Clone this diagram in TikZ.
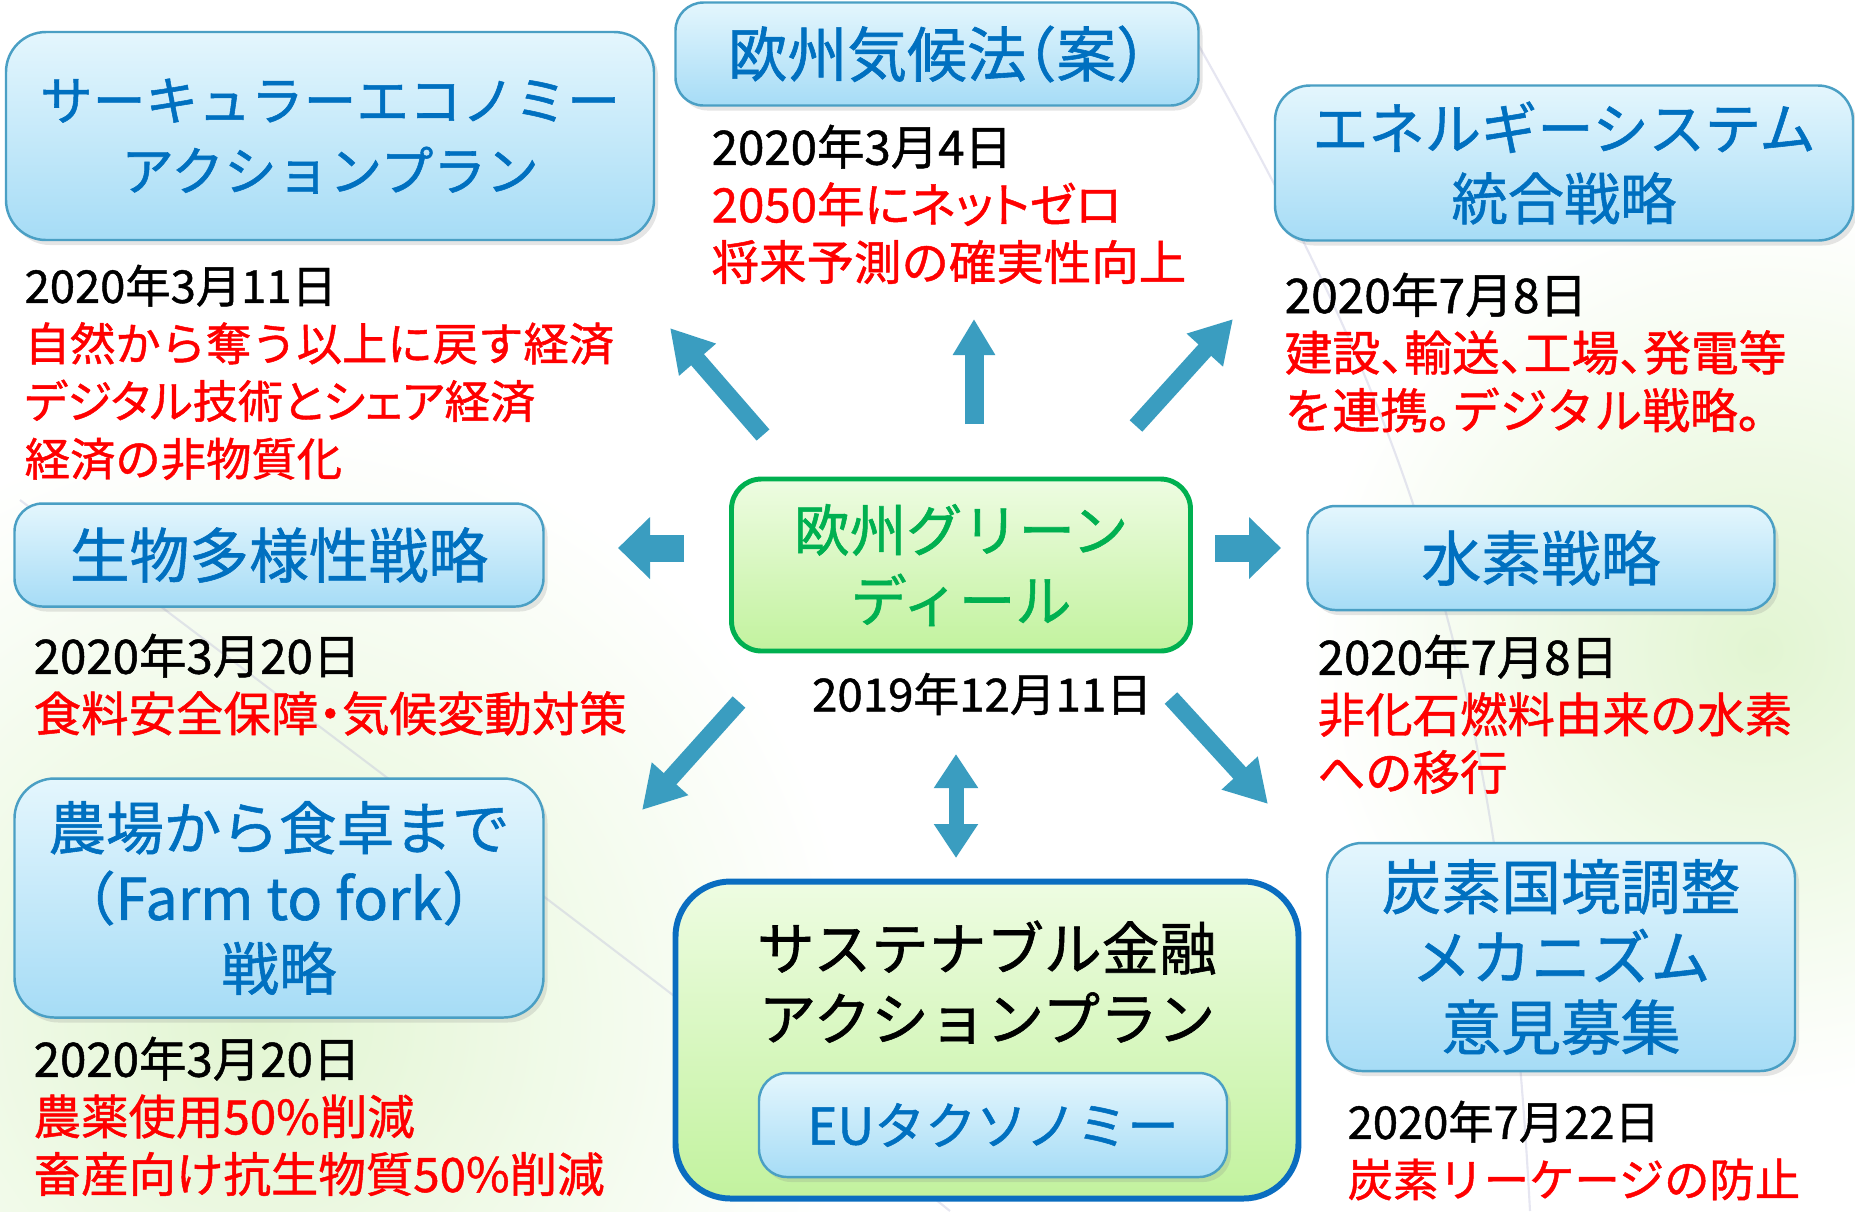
\documentclass[tikz,border=0pt]{standalone}
\usepackage{fontspec}
\setmainfont{Noto Sans CJK JP}[RawFeature=+halt, FakeBold=1]
\newcommand\narrowkana{\addfontfeatures{RawFeature=+palt}}
\usetikzlibrary{arrows.meta,shadows}
\definecolor{titleblue}{HTML}{0070C0}
\definecolor{boxline}{HTML}{4A9FC4}
\definecolor{boxtop}{HTML}{E4F6FD}
\definecolor{boxbottom}{HTML}{A6DCF6}
\definecolor{dealgreen}{HTML}{00B050}
\definecolor{greentop}{HTML}{EEFCE2}
\definecolor{greenbottom}{HTML}{C2F29E}
\definecolor{financeline}{HTML}{0A6DC0}
\definecolor{arrowblue}{HTML}{3A9DC0}
\definecolor{bggreen}{HTML}{E2F5D2}
\definecolor{swoosh}{HTML}{B8B8D8}
\tikzset{
  planbox/.style={draw=boxline, line width=0.7pt, rounded corners=0.28cm,
    top color=boxtop, bottom color=boxbottom, text=titleblue, align=center,
    drop shadow={opacity=0.2, shadow xshift=0.04cm, shadow yshift=-0.05cm}},
  titlefont/.style={font=\fontsize{#1}{20pt}\selectfont},
  infotext/.style={anchor=north west, inner sep=0pt, align=left,
    font=\fontsize{#1}{16.4pt}\selectfont},
  infotext/.default=13.5pt,
  bluearrow/.style={draw=arrowblue, line width=0.17cm,
    -{Triangle[length=0.42cm,width=0.46cm]}},
  fatarrow/.style={draw=arrowblue, line width=0.27cm,
    -{Triangle[length=0.32cm,width=0.6cm]}},
}
\begin{document}
\begin{tikzpicture}[x=1cm,y=-1cm]
  \useasboundingbox (0,0) rectangle (18.55,12.11);
  \fill[white] (0,0) rectangle (18.55,12.11);
  % background tint
  \shade[inner color=bggreen, outer color=white] (2.6,10.2) circle (6);
  \shade[inner color=bggreen, outer color=white] (17.6,6.5) circle (4.5);
  \draw[swoosh, opacity=0.35, line width=0.6pt] (0.2,5.0) .. controls (3.5,7.5) and (7.5,10.5) .. (9.5,12.11);
  \draw[swoosh, opacity=0.35, line width=0.6pt] (11.9,0.3) .. controls (14.0,4.0) and (15.0,6.5) .. (15.3,12.11);

  % plans
  \node[planbox, titlefont=15pt, rounded corners=0.4cm, minimum width=6.48cm, minimum height=2.08cm]
    (circ) at (3.30,1.36) {サーキュラーエコノミー\\アクションプラン};
  \node[planbox, titlefont=17pt, minimum width=5.23cm, minimum height=1.03cm]
    (climate) at (9.37,0.54) {欧州気候法（案）};
  \node[planbox, titlefont=16pt, rounded corners=0.35cm, minimum width=5.78cm, minimum height=1.55cm]
    (energy) at (15.64,1.63) {エネルギーシステム\\統合戦略};
  \node[planbox, titlefont=17pt, minimum width=5.29cm, minimum height=1.03cm]
    (biodiv) at (2.79,5.55) {生物多様性戦略};
  \node[planbox, titlefont=17pt, minimum width=4.67cm, minimum height=1.04cm]
    (hydrogen) at (15.41,5.58) {水素戦略};
  \node[planbox, titlefont=16.4pt, rounded corners=0.4cm, minimum width=5.29cm, minimum height=2.39cm]
    (farm) at (2.79,8.98) {農場から食卓まで\\（Farm to fork）\\戦略};
  \node[planbox, titlefont=17pt, rounded corners=0.35cm, minimum width=4.68cm, minimum height=2.28cm]
    (carbon) at (15.61,9.57) {炭素国境調整\\メカニズム\\意見募集};

  % green deal
  \node[draw=dealgreen, line width=1.4pt, rounded corners=0.3cm, top color=greentop, bottom color=greenbottom,
    text=dealgreen, align=center, titlefont=16pt, minimum width=4.59cm, minimum height=1.72cm]
    (deal) at (9.61,5.65) {欧州グリーン\\ディール};
  \node[infotext=13pt, anchor=center] (dealdate) at (9.82,6.94) {2019年12月11日};

  % sustainable finance
  \node[draw=financeline, line width=1.7pt, rounded corners=0.55cm, top color=greentop, bottom color=greenbottom,
    minimum width=6.23cm, minimum height=3.17cm] (finance) at (9.87,10.40) {};
  \node[align=center, titlefont=16.4pt] (financetitle) at (9.87,9.82) {サステナブル金融\\アクションプラン};
  \node[planbox, titlefont=14.5pt, minimum width=4.68cm, minimum height=1.04cm]
    (taxonomy) at (9.93,11.25) {EUタクソノミー};

  % dates and notes
  \node[infotext] (climateinfo) at (7.11,1.24) {2020年3月4日\\\textcolor{red}{\narrowkana 2050年にネットゼロ}\\\textcolor{red}{将来予測の確実性向上}};
  \node[infotext=12.9pt] (circinfo) at (0.24,2.64) {2020年3月11日\\\textcolor{red}{自然から奪う以上に戻す経済}\\\textcolor{red}{\narrowkana デジタル技術とシェア経済}\\\textcolor{red}{経済の非物質化}};
  \node[infotext=13.6pt] (energyinfo) at (12.84,2.72) {2020年7月8日\\\textcolor{red}{建設、輸送、工場、発電等}\\\textcolor{red}{を連携。デジタル戦略。}};
  \node[infotext] (biodivinfo) at (0.33,6.33) {2020年3月20日\\\textcolor{red}{食料安全保障・気候変動対策}};
  \node[infotext] (hydrogeninfo) at (13.17,6.34) {2020年7月8日\\\textcolor{red}{非化石燃料由来の水素}\\\textcolor{red}{への移行}};
  \node[infotext] (farminfo) at (0.33,10.36) {2020年3月20日\\\textcolor{red}{農薬使用50\%削減}\\\textcolor{red}{畜産向け抗生物質50\%削減}};
  \node[infotext=12.9pt] (carboninfo) at (13.47,11.00) {2020年7月22日\\\textcolor{red}{炭素リーケージの防止}};

  % arrows
  \coordinate (nwtail) at (7.63,4.35);  \coordinate (nwtip) at (6.70,3.28);
  \coordinate (ntail) at (9.74,4.24);   \coordinate (ntip) at (9.74,3.19);
  \coordinate (netail) at (11.36,4.26); \coordinate (netip) at (12.33,3.19);
  \coordinate (wtail) at (6.84,5.48);   \coordinate (wtip) at (6.18,5.48);
  \coordinate (etail) at (12.15,5.48);  \coordinate (etip) at (12.81,5.48);
  \coordinate (swtail) at (7.39,7.02);  \coordinate (swtip) at (6.42,8.10);
  \coordinate (setail) at (11.71,6.98); \coordinate (setip) at (12.68,8.04);
  \coordinate (sup) at (9.56,7.54);     \coordinate (sdown) at (9.56,8.58);
  \draw[bluearrow] (nwtail) -- (nwtip);
  \draw[bluearrow, line width=0.19cm, -{Triangle[length=0.36cm,width=0.4cm]}] (ntail) -- (ntip);
  \draw[bluearrow] (netail) -- (netip);
  \draw[fatarrow] (wtail) -- (wtip);
  \draw[fatarrow] (etail) -- (etip);
  \draw[bluearrow] (swtail) -- (swtip);
  \draw[bluearrow] (setail) -- (setip);
  \draw[bluearrow, line width=0.15cm, {Triangle[length=0.34cm,width=0.42cm]}-{Triangle[length=0.34cm,width=0.42cm]}] (sup) -- (sdown);
\end{tikzpicture}
\end{document}
